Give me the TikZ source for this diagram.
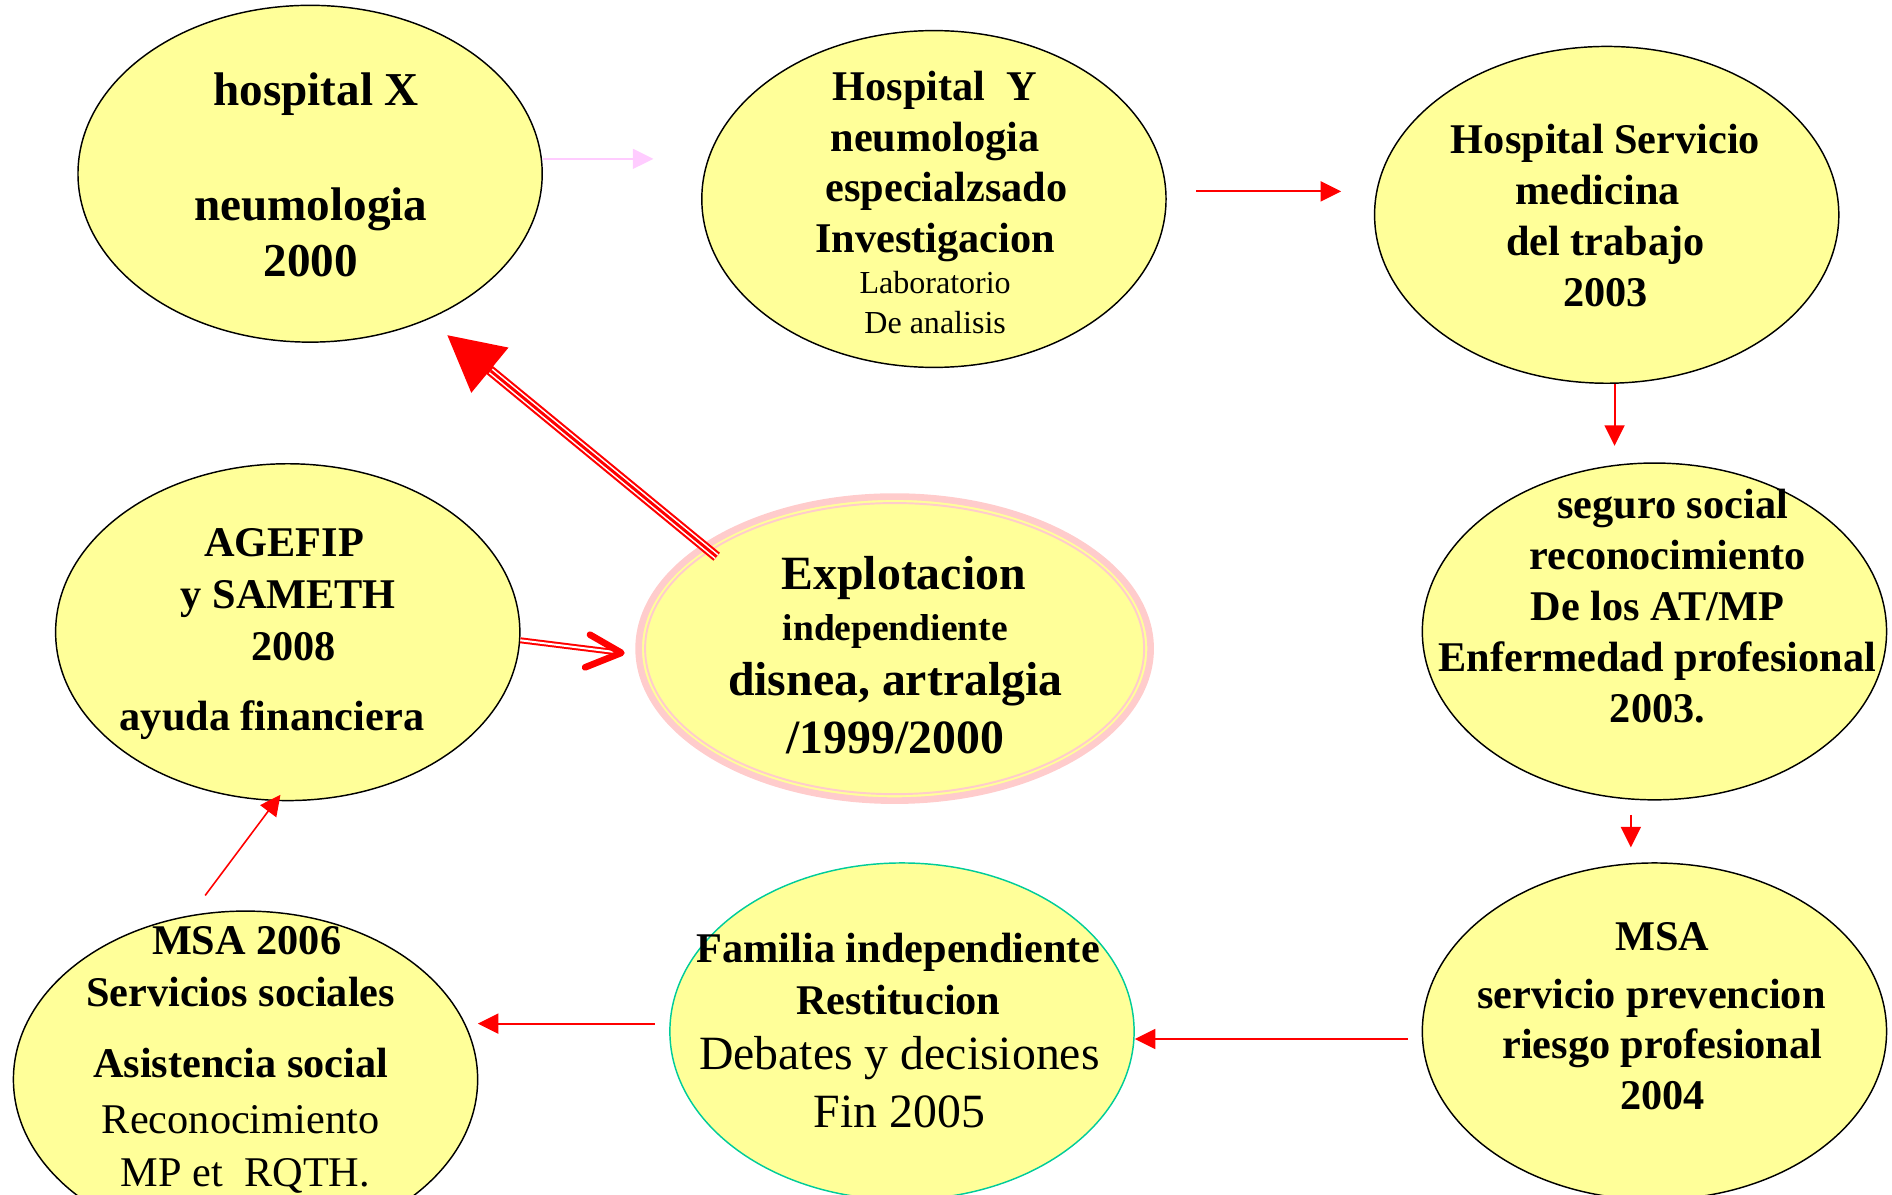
\documentclass[tikz,border=0pt]{standalone}
\usepackage{fontspec}
\setmainfont{Liberation Serif}
\usetikzlibrary{shapes.geometric,arrows.meta,calc}
\definecolor{ely}{RGB}{255,255,153}
\definecolor{pinkring}{RGB}{255,204,204}
\definecolor{pinkarr}{RGB}{255,204,255}
\definecolor{tealline}{RGB}{0,204,153}
\newcommand{\sx}{\rule[-0.25em]{0pt}{1em}}
\begin{document}
\begin{tikzpicture}[x=1pt,y=-1pt,
  oval/.style={ellipse, draw=black, line width=1.2pt, fill=ely,
    minimum width=384pt, minimum height=278.6pt, inner sep=0pt},
  txt/.style={align=center, inner sep=0pt, outer sep=0pt},
  bt/.style={txt, font=\fontsize{35}{42}\selectfont\bfseries},
  rarr/.style={draw=red, line width=1.6pt, -{Triangle[length=17pt,width=16.5pt]}},
  parr/.style={draw=pinkarr, line width=1.2pt, -{Triangle[length=17pt,width=16.5pt]}},
]
\useasboundingbox (0,0) rectangle (1565,988.45);

% ellipses
\node[oval] (hx) at (256.5,143.7) {};
\node[oval] (hy) at (772.5,164.6) {};
\node[oval] (sv) at (1329,177.7) {};
\node[oval] (ss) at (1368.5,522.3) {};
\node[oval] (m4) at (1368.5,853.1) {};
\node[oval, draw=tealline] (fam) at (746.1,853.1) {};
\node[oval] (m6) at (203.1,892.9) {};
\node[oval] (ag) at (238,522.9) {};
\node[ellipse, fill=ely, draw=pinkring, line width=5.5pt, inner sep=0pt,
  minimum width=423.5pt, minimum height=251.5pt] (ex) at (740,536.5) {};
\draw[pinkring, line width=1.6pt] (ex.center) ellipse [x radius=206.4, y radius=120.4];

% coordinates for free ends
\coordinate (p1) at (540.5,131.4);
\coordinate (q1) at (989.6,158.3);
\coordinate (q2) at (1109.4,158.3);
\coordinate (r2) at (1335.5,368.8);
\coordinate (s1) at (1349,674);
\coordinate (s2) at (1349,701);
\coordinate (t1) at (1164.3,859.4);
\coordinate (u1) at (541.5,846.7);
\coordinate (u2) at (395.2,846.7);
\coordinate (v1) at (169.7,740.7);
\coordinate (v2) at (232,657.4);
\coordinate (abtip) at (514,540);
\coordinate (extail) at (592.8,460.5);
\coordinate (hxtip) at (369.7,277);

% connectors
\draw[parr] (p1 -| hx.east) -- (p1);
\draw[rarr] (q1) -- (q2);
\draw[rarr] (r2 |- sv.south) -- (r2);
\draw[rarr] (s1) -- (s2);
\draw[rarr] (t1) -- (t1 -| fam.east);
\draw[rarr] (u1) -- (u2);
\draw[rarr, line width=1.3pt] (v1) -- (v2);
% double arrow AGEFIP -> Explotacion
\draw[draw=red, line width=1.65pt, double=white, double distance=1.65pt] (ag.-2.7) -- (abtip);
\draw[red, line width=5.5pt, line cap=round, line join=round]
  ([shift={(-26,-15)}]abtip) -- (abtip) -- ([shift={(-30,12)}]abtip);
% triple arrow Explotacion -> hospital X
\draw[red, line width=8.5pt, -{Triangle[length=46pt,width=46pt]}] (extail) -- (hxtip);
\draw[white, line width=5pt, shorten >=47pt] (extail) -- (hxtip);
\draw[red, line width=2.4pt, shorten >=47pt] (extail) -- (hxtip);

% texts
\node[txt, font=\fontsize{39}{46.5}\selectfont\bfseries] (hxt) at (257,148)
  {\sx\hspace*{9pt}hospital X\\[48.5pt]neumologia\\2000\sx};
\node[bt] (hyt) at (773.5,137.25)
  {\sx Hospital~~Y\\neumologia\\\hspace*{19pt}especialzsado\\Investigacion\sx};
\node[txt, font=\fontsize{26.5}{32.5}\selectfont] (hys) at (773.5,252.6)
  {\sx Laboratorio\\De analisis\sx};
\node[bt, font=\fontsize{35}{42.2}\selectfont\bfseries] (svt) at (1328,181.2)
  {\sx Hospital Servicio\\medicina\hspace*{13pt}\mbox{}\\del trabajo\\2003\sx};
\node[bt, font=\fontsize{35}{42.1}\selectfont\bfseries] (sst) at (1371,504.5)
  {\sx\hspace*{25pt}seguro social\\\hspace*{17pt}reconocimiento\\De los AT/MP\\Enfermedad profesional\\2003.\sx};
\node[bt] (m4t) at (1375,843.5)
  {\sx MSA\\[5.4pt]servicio prevencion\hspace*{18pt}\mbox{}\\riesgo profesional\\2004\sx};
\node[bt, font=\fontsize{35}{42.8}\selectfont\bfseries] (famt) at (743,808.65)
  {\sx Familia independiente\\Restitucion\sx};
\node[txt, font=\fontsize{39.5}{47.5}\selectfont] (fams) at (744,898.6)
  {\sx Debates y decisiones\\Fin 2005\sx};
\node[bt, font=\fontsize{35}{42.8}\selectfont\bfseries] (m6t) at (199,831.9)
  {\sx\hspace*{10pt}MSA 2006\\Servicios sociales\\[16.3pt]Asistencia social\sx};
\node[txt, font=\fontsize{35}{43.3}\selectfont] (m6s) at (199,950.8)
  {\sx Reconocimiento\\\hspace*{8pt}MP et~~RQTH.\sx};
\node[bt, font=\fontsize{35}{42.7}\selectfont\bfseries] (agt) at (235,523.8)
  {\sx AGEFIP\\\hspace*{7pt}y SAMETH\\\hspace*{16pt}2008\\[15.8pt]ayuda financiera\hspace*{20pt}\sx};
\node[txt, font=\fontsize{39.5}{42}\selectfont\bfseries] (ext) at (740.5,545.6)
  {\sx\hspace*{14pt}Explotacion\\{\fontsize{31}{42}\selectfont independiente}\\[3pt]disnea, artralgia\\[6pt]/1999/2000\sx};
\end{tikzpicture}
\end{document}
